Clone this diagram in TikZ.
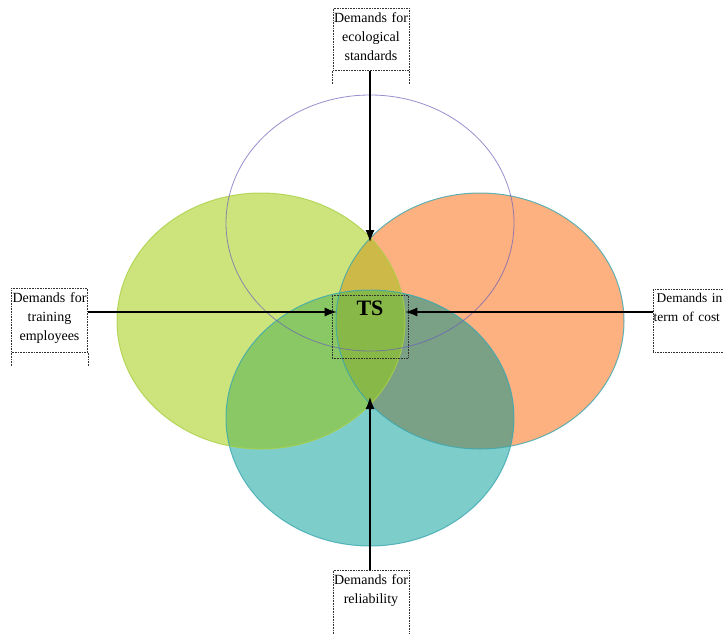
\documentclass[tikz,border=0pt]{standalone}
\usepackage{fontspec}
\setmainfont{Liberation Serif}
\usetikzlibrary{arrows.meta}

\definecolor{lime}{RGB}{205,228,125}
\definecolor{peach}{RGB}{253,176,128}
\definecolor{aqua}{RGB}{125,205,203}
\definecolor{limepeach}{RGB}{205,185,72}
\definecolor{limeaqua}{RGB}{137,200,100}
\definecolor{peachaqua}{RGB}{122,160,134}
\definecolor{allthree}{RGB}{136,184,72}
\definecolor{limeedge}{RGB}{170,208,70}
\definecolor{aquaedge}{RGB}{60,168,176}
\definecolor{violetedge}{RGB}{105,95,185}

\tikzset{
  frame/.style={draw=black!80, densely dotted, line width=0.6pt,
    inner sep=0pt, minimum width=76pt},
  caption/.style={text width=76pt, align=center, inner sep=0pt,
    font=\fontsize{14}{19}\selectfont},
  guide/.style={draw=black!80, densely dotted, line width=0.6pt},
  push/.style={line width=1.1pt, -{Latex[length=12pt,width=9pt]}},
}

\begin{document}
\begin{tikzpicture}[x=1pt,y=-1pt]
\useasboundingbox (0,0) rectangle (723,633);
\clip (0,0) rectangle (723,633);

% ellipse geometry
\def\lens{ellipse [x radius=144, y radius=128]}
\coordinate (cG) at (261,321);
\coordinate (cO) at (480,321);
\coordinate (cT) at (370,418);
\coordinate (cV) at (370,223);

% base fills
\fill[lime]  (cG) \lens;
\fill[peach] (cO) \lens;
\fill[aqua]  (cT) \lens;

% pairwise overlaps
\begin{scope}
  \clip (cG) \lens;
  \fill[limepeach] (cO) \lens;
  \fill[limeaqua]  (cT) \lens;
\end{scope}
\begin{scope}
  \clip (cO) \lens;
  \fill[peachaqua] (cT) \lens;
\end{scope}
% common region
\begin{scope}
  \clip (cG) \lens;
  \clip (cO) \lens;
  \fill[allthree] (cT) \lens;
\end{scope}

% outlines
\draw[limeedge, line width=1pt, draw opacity=0.8] (cG) \lens;
\draw[aquaedge, line width=1pt, draw opacity=0.8] (cO) \lens;
\draw[aquaedge, line width=1pt, draw opacity=0.8] (cT) \lens;
\draw[violetedge, line width=0.8pt, draw opacity=0.7] (cV) \lens;

% centre box
\node[frame, minimum height=63pt] (ts) at (370,326.5) {};
\node[font=\fontsize{22}{22}\selectfont\bfseries] (tslabel) at (370,308) {TS};

% labelled boxes
\node[frame, minimum height=62pt, anchor=north] (eco) at (371,8) {};
\node[caption, anchor=north] (ecotext) at ([yshift=-4pt]eco.north)
  {Demands for\\ecological\\standards};
\draw[guide] (eco.south west) -- ++(0,13);
\draw[guide] (eco.south east) -- ++(0,13);

\node[frame, minimum height=64pt, anchor=north] (train) at (49.5,288) {};
\node[caption, anchor=north] (traintext) at ([yshift=-4pt]train.north)
  {Demands for\\training\\employees};
\draw[guide] (train.south west) -- ++(0,14);
\draw[guide] (train.south east) -- ++(0,14);

\node[frame, minimum width=100pt, minimum height=63pt, anchor=north west] (cost) at (653,289) {};
\node[caption, text width=96pt, align=left, font=\fontsize{13.4}{19}\selectfont,
  anchor=north west] (costtext) at ([xshift=0.5pt,yshift=-4pt]cost.north west)
  {\hspace*{3pt}Demands in\\term of cost};

\node[frame, minimum height=70pt, anchor=north] (rel) at (371,570) {};
\node[caption, anchor=north] (reltext) at ([yshift=-4pt]rel.north)
  {Demands for\\reliability};

% connectors
\coordinate (topmeet) at (370,242);
\coordinate (lowmeet) at (370,397);
\draw[push] (eco.south -| topmeet) -- (topmeet);
\draw[push] (rel.north -| lowmeet) -- (lowmeet);
\draw[push] (train.east |- 0,312) -- ([xshift=5pt]ts.west |- 0,312);
\draw[push] (cost.west |- 0,312) -- ([xshift=-3pt]ts.east |- 0,312);
\end{tikzpicture}
\end{document}
